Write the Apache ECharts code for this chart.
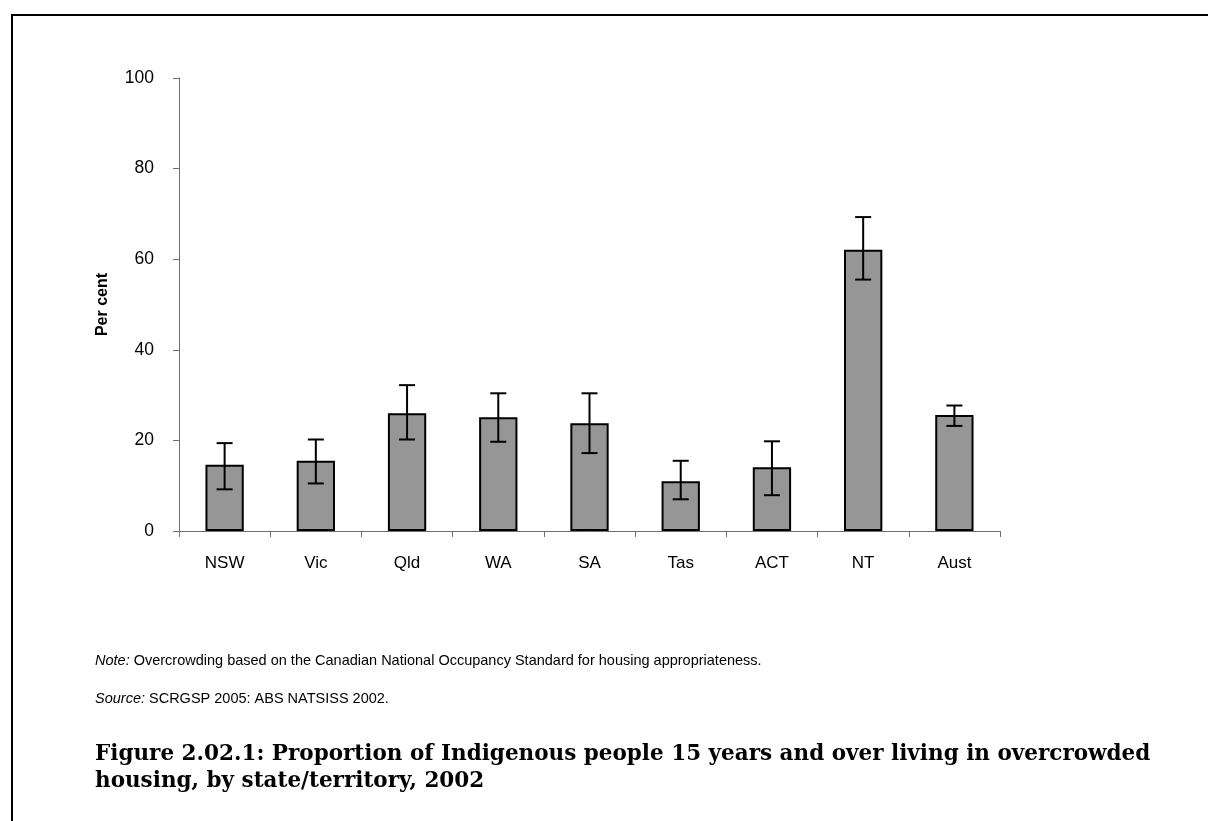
<!DOCTYPE html>
<html>
<head>
<meta charset="utf-8">
<script src="https://cdn.jsdelivr.net/npm/echarts@6/dist/echarts.min.js"></script>
<style>
html,body{margin:0;padding:0;background:#fff;}
#chart{width:1208px;height:821px;}
</style>
</head>
<body>
<div id="chart"></div>
<script>
const categories = ['NSW','Vic','Qld','WA','SA','Tas','ACT','NT','Aust'];
const values = [14.6, 15.5, 26.0, 25.1, 23.8, 11.0, 14.1, 62.1, 25.6];
const errLow = [9.2, 10.5, 20.2, 19.7, 17.2, 7.0, 7.9, 55.5, 23.2];
const errHigh = [19.4, 20.2, 32.2, 30.4, 30.4, 15.5, 19.8, 69.3, 27.7];
const yTicks = [0, 20, 40, 60, 80, 100];
const yTitle = 'Per cent';
const noteLabel = 'Note:';
const noteText = ' Overcrowding based on the Canadian National Occupancy Standard for housing appropriateness.';
const sourceLabel = 'Source:';
const sourceText = ' SCRGSP 2005: ABS NATSISS 2002.';
const titleLines = ['Figure 2.02.1: Proportion of Indigenous people 15 years and over living in overcrowded', 'housing, by state/territory, 2002'];

const chart = echarts.init(document.getElementById('chart'), null, {renderer: 'canvas'});
const sans = '"Liberation Sans", Arial, sans-serif';
const serif = '"DejaVu Serif", "Liberation Serif", serif';

const option = {
  backgroundColor: '#fff',
  animation: false,
  grid: {left: 179, right: 208, top: 78, bottom: 290, containLabel: false},
  xAxis: {
    type: 'category',
    data: categories,
    axisLine: {lineStyle: {color: '#6e6e6e', width: 1}},
    axisTick: {show: true, length: 6, lineStyle: {color: '#6e6e6e'}},
    axisLabel: {color: '#000', fontFamily: sans, fontSize: 17, margin: 24}
  },
  yAxis: {
    type: 'value',
    min: yTicks[0], max: yTicks[yTicks.length - 1], interval: 20,
    name: yTitle,
    nameLocation: 'middle',
    nameGap: 68,
    nameTextStyle: {fontFamily: sans, fontSize: 16, fontWeight: 'bold', color: '#000'},
    axisLine: {show: true, lineStyle: {color: '#6e6e6e', width: 1}},
    axisTick: {show: true, length: 6, lineStyle: {color: '#6e6e6e'}},
    splitLine: {show: false},
    axisLabel: {color: '#000', fontFamily: sans, fontSize: 17.5, margin: 25}
  },
  series: [
    {
      type: 'bar',
      data: values,
      barWidth: '42%',
      itemStyle: {color: '#969696', borderColor: '#000', borderWidth: 2}
    },
    {
      type: 'custom',
      data: categories.map((c, i) => [i, errLow[i], errHigh[i]]),
      z: 10,
      renderItem: function (params, api) {
        const i = api.value(0);
        const lo = api.coord([i, api.value(1)]);
        const hi = api.coord([i, api.value(2)]);
        const hw = 8;
        const style = {stroke: '#000', lineWidth: 2};
        return {
          type: 'group',
          children: [
            {type: 'line', shape: {x1: lo[0], y1: lo[1], x2: hi[0], y2: hi[1]}, style},
            {type: 'line', shape: {x1: hi[0] - hw, y1: hi[1], x2: hi[0] + hw, y2: hi[1]}, style},
            {type: 'line', shape: {x1: lo[0] - hw, y1: lo[1], x2: lo[0] + hw, y2: lo[1]}, style}
          ]
        };
      }
    }
  ],
  graphic: [
    {type: 'line', shape: {x1: 11, y1: 15, x2: 1208, y2: 15}, style: {stroke: '#000', lineWidth: 2}},
    {type: 'line', shape: {x1: 12, y1: 15, x2: 12, y2: 821}, style: {stroke: '#000', lineWidth: 2}},
    {
      type: 'text', left: 95, top: 653,
      style: {
        text: '{i|' + noteLabel + '}{n|' + noteText + '}',
        rich: {
          i: {fontFamily: sans, fontSize: 14.5, fontStyle: 'italic', fill: '#000'},
          n: {fontFamily: sans, fontSize: 14.5, fill: '#000'}
        }
      }
    },
    {
      type: 'text', left: 95, top: 691,
      style: {
        text: '{i|' + sourceLabel + '}{n|' + sourceText + '}',
        rich: {
          i: {fontFamily: sans, fontSize: 14.5, fontStyle: 'italic', fill: '#000'},
          n: {fontFamily: sans, fontSize: 14.5, fill: '#000'}
        }
      }
    },
    {
      type: 'text', left: 95, top: 741,
      style: {
        text: titleLines.join('\n'),
        fontFamily: serif, fontSize: 21.5, fontWeight: 'bold', fill: '#000', lineHeight: 27
      }
    }
  ]
};
chart.setOption(option);
</script>
</body>
</html>
